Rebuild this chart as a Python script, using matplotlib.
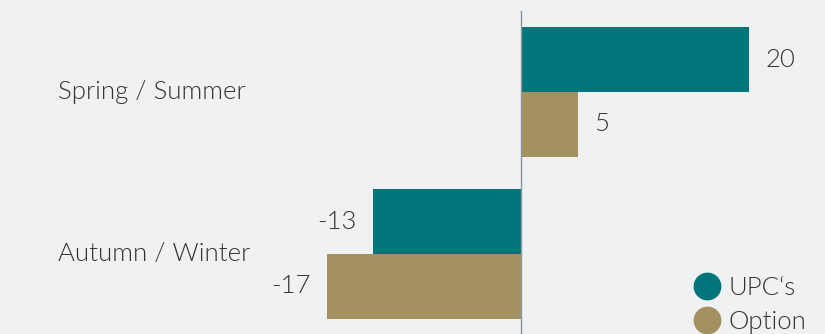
import numpy as np
import matplotlib.pyplot as plt
from matplotlib.lines import Line2D

plt.rcParams['font.family'] = ['Lato', 'DejaVu Sans']
plt.rcParams['font.weight'] = 340

categories = ["Spring / Summer", "Autumn / Winter"]
series = ["UPC\u2018s", "Option"]
upcs = [20, -13]
option = [5, -17]
colors = ["#00767b", "#a39160"]
bg = "#f0f1f3"
txt = "#333333"

fig = plt.figure(figsize=(8.25, 3.34), dpi=100, facecolor=bg)
ax = fig.add_axes([0, 0, 1, 1])
ax.set_facecolor(bg)

y = np.arange(len(categories))
h = 0.4
b1 = ax.barh(y - h / 2, upcs, height=h, color=colors[0])
b2 = ax.barh(y + h / 2, option, height=h, color=colors[1])
for bars in (b1, b2):
    ax.bar_label(bars, fmt='%d', padding=12, fontsize=18.5, color=txt)

ax.axvline(0, ymin=0, ymax=0.967, color="#8c969c", lw=1)

ax.set_xlim(-45.76, 26.7)
ax.set_ylim(1.494, -0.568)
ax.axis('off')

for yi, cat in zip(y, categories):
    ax.text(0.07, yi, cat, transform=ax.get_yaxis_transform(),
            ha='left', va='center', fontsize=18.5, color=txt)

handles = [Line2D([], [], marker='o', ls='', markersize=19, color=c) for c in colors]
fig.legend(handles, series, loc='upper left', bbox_to_anchor=(0.838, 0.175),
           frameon=False, fontsize=18.5, labelcolor=txt, handletextpad=0.25,
           borderpad=0, borderaxespad=0, labelspacing=0.4, handlelength=1.2)

fig.savefig("out.png", dpi=100, facecolor=bg)
